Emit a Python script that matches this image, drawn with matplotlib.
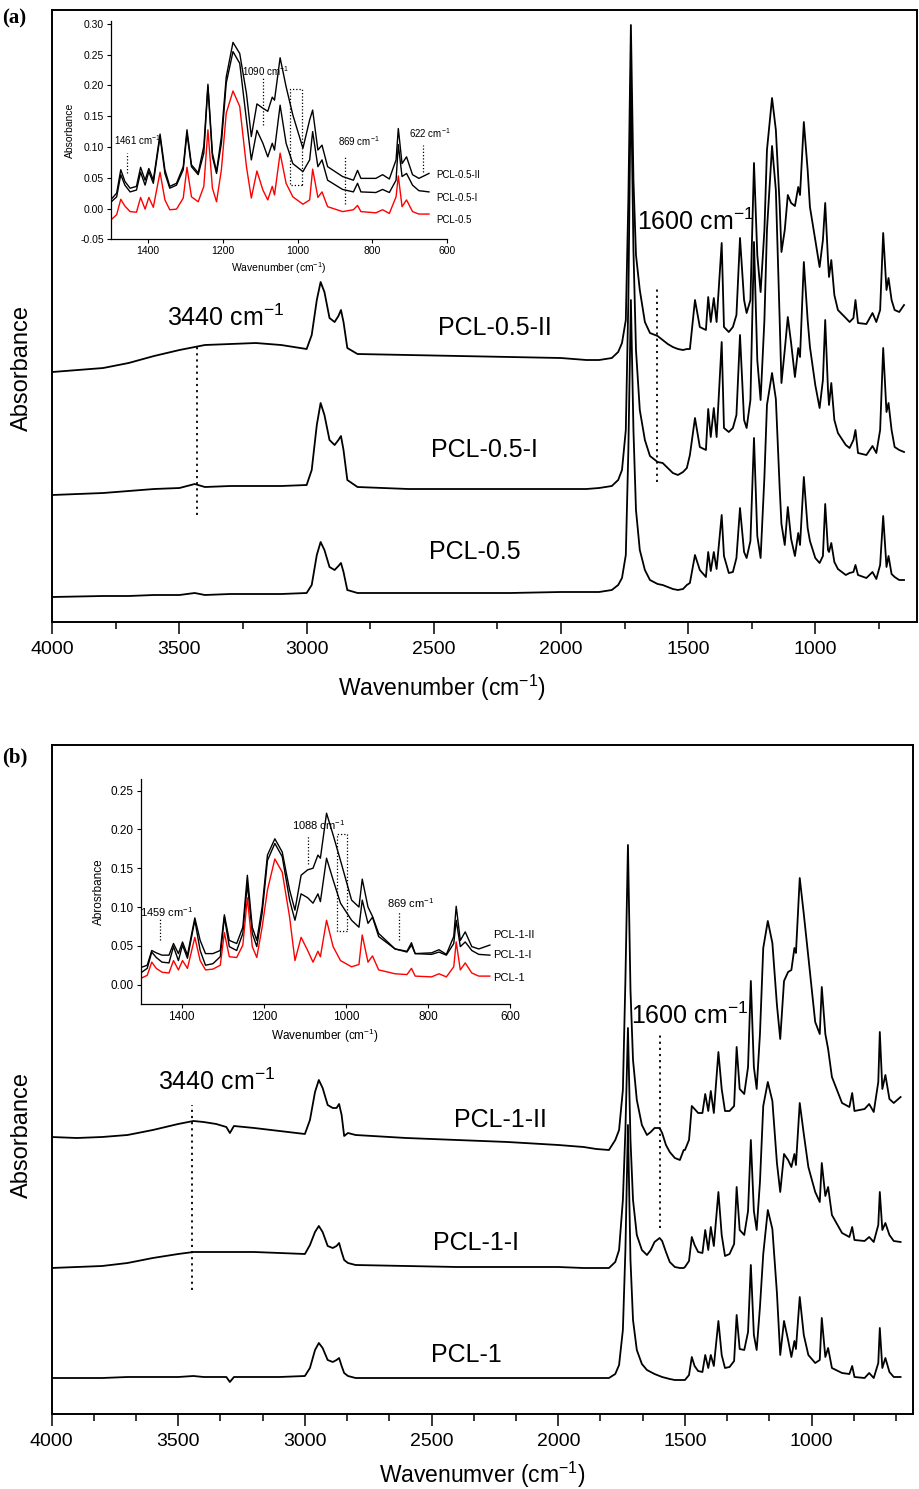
import matplotlib
matplotlib.use("Agg")
import matplotlib.pyplot as plt
from matplotlib.ticker import MultipleLocator, FixedLocator, FormatStrFormatter, NullLocator
from matplotlib.patches import Rectangle

plt.rcParams['font.family'] = ['Liberation Sans', 'DejaVu Sans']
plt.rcParams['mathtext.fontset'] = 'custom'
plt.rcParams['mathtext.rm'] = 'Liberation Sans'
plt.rcParams['mathtext.it'] = 'Liberation Sans:italic'
plt.rcParams['mathtext.bf'] = 'Liberation Sans:bold'
NARROW = ['Liberation Sans Narrow', 'Liberation Sans', 'DejaVu Sans']

# ---------------- Panel (a) main spectra (offset absorbance, a.u.) ----------------
a_low_wn = [4000, 3800, 3700, 3600, 3500, 3440, 3400, 3300, 3200, 3100, 3000, 2980, 2960, 2945,
            2930, 2910, 2890, 2875, 2865, 2855, 2840, 2800, 2600, 2400, 2200, 2000, 1900, 1850,
            1800, 1775, 1760, 1745, 1735, 1725, 1715, 1705, 1690, 1670, 1650, 1620, 1600, 1580,
            1560, 1540, 1520, 1505]
a_fp_wn = [1493, 1473, 1454, 1430, 1421, 1411, 1399, 1388, 1368, 1359, 1340, 1324, 1310, 1296,
           1280, 1270, 1255, 1241, 1228, 1215, 1200, 1190, 1170, 1155, 1140, 1133, 1120, 1108,
           1095, 1080, 1067, 1060, 1045, 1030, 1021, 1000, 983, 970, 961, 950, 946, 937, 925,
           911, 880, 865, 850, 842, 832, 799, 775, 760, 745, 733, 720, 712, 700, 688, 670, 651]

a_II_low = [250, 254, 259, 266, 272, 275, 277, 278, 279, 277, 273, 287, 322, 340, 330, 304, 300,
            306, 312, 300, 274, 268, 267, 266, 265, 264, 262, 262, 264, 270, 279, 302, 422, 597,
            442, 367, 332, 300, 289, 286, 282, 278, 275, 273, 272, 273]
a_II_fp = [273, 322, 295, 292, 325, 300, 324, 300, 379, 295, 290, 295, 307, 384, 322, 309, 322,
           459, 367, 330, 392, 472, 524, 492, 417, 370, 392, 427, 419, 416, 435, 427, 500, 452,
           415, 382, 355, 382, 419, 362, 345, 362, 327, 312, 304, 300, 304, 322, 299, 298, 309,
           300, 312, 389, 332, 344, 322, 312, 310, 317]
a_I_low = [127, 129, 131, 133, 134, 138, 135, 136, 136, 136, 137, 152, 197, 219, 207, 182, 177,
           182, 186, 172, 142, 135, 133, 133, 133, 133, 133, 134, 136, 142, 152, 192, 322, 550,
           372, 272, 212, 182, 166, 160, 159, 154, 149, 147, 150, 154]
a_I_fp = [167, 204, 175, 172, 213, 185, 214, 185, 280, 194, 190, 194, 207, 287, 202, 194, 222,
          380, 262, 222, 302, 392, 476, 432, 302, 239, 272, 305, 279, 245, 274, 265, 360, 302,
          275, 237, 214, 242, 302, 232, 217, 239, 202, 189, 177, 174, 182, 192, 169, 167, 176,
          169, 192, 274, 210, 219, 192, 175, 172, 170]
a_0_low = [25, 26, 26, 27, 27, 29, 27, 28, 28, 28, 29, 37, 67, 80, 72, 55, 52, 56, 59, 50, 32,
           29, 29, 29, 29, 30, 30, 30, 32, 37, 44, 67, 172, 322, 192, 112, 72, 52, 42, 38, 37,
           35, 33, 32, 33, 37]
a_0_fp = [39, 67, 52, 45, 70, 51, 70, 53, 107, 66, 49, 50, 64, 114, 70, 64, 81, 184, 86, 64,
          145, 217, 249, 223, 134, 98, 77, 115, 83, 66, 89, 77, 145, 94, 81, 64, 59, 66, 118,
          72, 70, 79, 60, 53, 47, 49, 50, 57, 47, 44, 50, 43, 57, 106, 55, 66, 48, 45, 42, 42]
a_names = ['PCL-0.5-II', 'PCL-0.5-I', 'PCL-0.5']

# ---------------- Panel (b) main spectra ----------------
b_low_wn = [4000, 3900, 3800, 3700, 3600, 3500, 3440, 3400, 3350, 3310, 3296, 3280, 3200, 3100,
            3000, 2980, 2960, 2945, 2930, 2910, 2890, 2875, 2865, 2855, 2845, 2830, 2800, 2600,
            2400, 2200, 2000, 1900, 1850, 1800, 1775, 1760, 1745, 1735, 1725, 1715, 1705, 1690,
            1670, 1650, 1635, 1620, 1600, 1590, 1575, 1560, 1540, 1520, 1505]
fp_wn = [1500, 1484, 1473, 1462, 1448, 1431, 1420, 1408, 1398, 1386, 1368, 1355, 1342, 1324,
         1306, 1296, 1284, 1266, 1251, 1240, 1228, 1217, 1204, 1191, 1173, 1155, 1137, 1124,
         1109, 1093, 1080, 1068, 1062, 1047, 1031, 1013, 986, 968, 960, 946, 935, 920, 880,
         851, 840, 831, 791, 773, 755, 737, 731, 721, 709, 693, 676, 649]

b_II_low = [277, 276, 277, 279, 284, 290, 293, 292, 290, 287, 281, 288, 286, 283, 280, 294, 322,
            334, 326, 309, 306, 306, 310, 299, 278, 281, 279, 276, 274, 272, 269, 267, 265, 264,
            274, 284, 324, 434, 569, 424, 354, 314, 289, 279, 282, 286, 286, 281, 269, 262, 256,
            254, 264]
b_II_fp = [264, 274, 308, 305, 301, 301, 320, 303, 323, 301, 362, 325, 303, 303, 308, 367, 325,
           320, 347, 433, 347, 325, 380, 466, 493, 471, 409, 375, 433, 442, 444, 466, 461, 536,
           500, 457, 392, 380, 427, 380, 365, 337, 311, 307, 321, 303, 305, 310, 302, 332, 382,
           325, 339, 315, 311, 317]
b_I_low = [146, 147, 148, 151, 156, 160, 162, 162, 162, 162, 162, 162, 162, 161, 160, 169, 182,
           188, 182, 168, 166, 168, 171, 162, 154, 151, 149, 148, 147, 147, 147, 146, 146, 146,
           152, 164, 214, 284, 386, 274, 214, 179, 164, 159, 164, 172, 176, 173, 162, 152, 147,
           146, 146]
b_I_fp = [147, 153, 177, 169, 162, 161, 184, 164, 187, 168, 222, 179, 158, 160, 170, 227, 184,
          179, 203, 274, 203, 184, 232, 308, 332, 313, 251, 222, 260, 254, 247, 260, 249, 311,
          280, 247, 222, 212, 251, 218, 227, 199, 181, 177, 187, 174, 173, 177, 172, 189, 222,
          184, 191, 179, 173, 172]
b_0_low = [36, 36, 36, 37, 37, 37, 38, 37, 37, 37, 32, 37, 37, 37, 38, 46, 64, 71, 66, 54, 52,
           54, 56, 48, 41, 38, 36, 36, 36, 36, 36, 36, 36, 36, 40, 49, 84, 164, 289, 154, 94,
           64, 50, 44, 42, 40, 38, 37, 36, 35, 34, 34, 34]
b_0_fp = [34, 39, 57, 48, 43, 42, 59, 46, 59, 48, 93, 59, 46, 47, 53, 99, 65, 64, 82, 149, 79,
          64, 107, 160, 204, 185, 121, 59, 93, 74, 57, 73, 65, 117, 79, 59, 51, 54, 96, 57, 66,
          46, 41, 40, 48, 37, 36, 41, 36, 51, 86, 46, 56, 42, 37, 37]
b_names = ['PCL-1-II', 'PCL-1-I', 'PCL-1']

# ---------------- Insets (absorbance) ----------------
ins_a_red = [-0.019, -0.010, 0.015, 0.004, -0.005, -0.006, 0.018, -0.001, 0.018, 0.002, 0.059,
             0.014, -0.002, -0.001, 0.017, 0.067, 0.019, 0.011, 0.036, 0.128, 0.033, 0.011,
             0.063, 0.155, 0.191, 0.166, 0.068, 0.017, 0.061, 0.030, 0.014, 0.036, 0.022,
             0.090, 0.041, 0.019, 0.007, 0.014, 0.064, 0.018, 0.027, 0.003, -0.005, -0.002,
             0.005, -0.005, -0.007, -0.002, -0.008, 0.019, 0.053, 0.003, 0.014, -0.005,
             -0.009, -0.009]
ins_a_I = [0.010, 0.019, 0.055, 0.038, 0.027, 0.030, 0.059, 0.038, 0.060, 0.041, 0.117, 0.057,
           0.033, 0.038, 0.063, 0.122, 0.068, 0.055, 0.090, 0.198, 0.084, 0.057, 0.106, 0.204,
           0.255, 0.236, 0.144, 0.079, 0.127, 0.106, 0.084, 0.106, 0.095, 0.168, 0.106, 0.073,
           0.060, 0.079, 0.125, 0.068, 0.079, 0.046, 0.031, 0.027, 0.041, 0.027, 0.026, 0.031,
           0.026, 0.046, 0.104, 0.052, 0.057, 0.038, 0.029, 0.027]
ins_a_II = [0.014, 0.025, 0.063, 0.044, 0.033, 0.036, 0.067, 0.046, 0.065, 0.046, 0.121, 0.063,
            0.036, 0.041, 0.068, 0.128, 0.071, 0.058, 0.101, 0.202, 0.090, 0.060, 0.117, 0.214,
            0.270, 0.252, 0.187, 0.117, 0.170, 0.163, 0.158, 0.181, 0.176, 0.245, 0.198, 0.152,
            0.098, 0.144, 0.160, 0.095, 0.103, 0.068, 0.052, 0.046, 0.062, 0.049, 0.049, 0.055,
            0.048, 0.079, 0.130, 0.073, 0.084, 0.055, 0.049, 0.057]
ins_b_red = [0.008, 0.012, 0.029, 0.021, 0.016, 0.015, 0.031, 0.019, 0.031, 0.021, 0.061, 0.031,
             0.019, 0.020, 0.025, 0.067, 0.036, 0.035, 0.051, 0.112, 0.049, 0.035, 0.074, 0.122,
             0.162, 0.145, 0.087, 0.031, 0.061, 0.044, 0.029, 0.043, 0.036, 0.083, 0.049, 0.031,
             0.023, 0.026, 0.064, 0.029, 0.037, 0.019, 0.014, 0.013, 0.021, 0.011, 0.010, 0.014,
             0.010, 0.023, 0.055, 0.019, 0.028, 0.015, 0.011, 0.011]
ins_b_I = [0.015, 0.021, 0.042, 0.035, 0.029, 0.028, 0.049, 0.031, 0.051, 0.034, 0.083, 0.044,
           0.025, 0.027, 0.036, 0.087, 0.049, 0.044, 0.066, 0.130, 0.066, 0.049, 0.092, 0.160,
           0.182, 0.165, 0.109, 0.083, 0.117, 0.112, 0.105, 0.117, 0.107, 0.163, 0.135, 0.105,
           0.083, 0.074, 0.109, 0.079, 0.087, 0.062, 0.046, 0.042, 0.051, 0.040, 0.039, 0.042,
           0.038, 0.053, 0.083, 0.049, 0.055, 0.044, 0.039, 0.038]
ins_b_II = [0.022, 0.025, 0.044, 0.041, 0.038, 0.038, 0.053, 0.040, 0.055, 0.038, 0.086, 0.057,
            0.040, 0.040, 0.044, 0.090, 0.057, 0.053, 0.074, 0.141, 0.074, 0.057, 0.100, 0.167,
            0.188, 0.171, 0.122, 0.096, 0.141, 0.148, 0.150, 0.167, 0.163, 0.221, 0.193, 0.160,
            0.109, 0.100, 0.136, 0.100, 0.088, 0.066, 0.046, 0.043, 0.054, 0.040, 0.041, 0.045,
            0.039, 0.062, 0.101, 0.057, 0.068, 0.049, 0.046, 0.051]

DOT = (0, (1.2, 2.2))

fig = plt.figure(figsize=(9.2, 14.89), dpi=100)


def main_panel(rect, low_wn, fp, series, names, name_pos, ylim, minor_step,
               ann3440, ann1600, xlabel, xlabel_xy, ylabel_xy, tag, tag_xy):
    ax = fig.add_axes(rect)
    for low, f in series:
        ax.plot(list(low_wn) + list(fp[0]), list(low) + list(f), color='black', lw=1.3,
                solid_joinstyle='round')
    ax.set_xlim(4000, 600)
    ax.set_ylim(*ylim)
    ax.xaxis.set_major_locator(FixedLocator([4000, 3500, 3000, 2500, 2000, 1500, 1000]))
    ax.xaxis.set_minor_locator(MultipleLocator(minor_step))
    ax.yaxis.set_major_locator(NullLocator())
    ax.tick_params(axis='x', which='major', direction='out', length=8.5, width=1.1,
                   labelsize=14, pad=5)
    ax.tick_params(axis='x', which='minor', direction='out', length=5, width=1.1)
    for lab in ax.get_xticklabels():
        lab.set_family(NARROW)
    for s in ax.spines.values():
        s.set_linewidth(1.4)
    for (nm, (x, y)) in zip(names, name_pos):
        ax.text(x, y, nm, fontsize=18, ha='center', va='center')
    (lx, ly0, ly1, tx, ty) = ann3440
    ax.plot([lx, lx], [ly0, ly1], color='black', lw=1.3, ls=DOT)
    ax.text(tx, ty, '3440 cm$^{-1}$', fontsize=18, ha='center', va='center')
    (lx, ly0, ly1, tx, ty) = ann1600
    ax.plot([lx, lx], [ly0, ly1], color='black', lw=1.3, ls=DOT)
    ax.text(tx, ty, '1600 cm$^{-1}$', fontsize=18, ha='center', va='center')
    fig.text(xlabel_xy[0], xlabel_xy[1], xlabel, fontsize=16.5, ha='center', va='center',
             family=NARROW)
    fig.text(ylabel_xy[0], ylabel_xy[1], 'Absorbance', fontsize=17, ha='center',
             va='center', rotation=90, family=NARROW)
    fig.text(tag_xy[0], tag_xy[1], tag, fontsize=15, fontweight='bold',
             family=['Liberation Serif', 'DejaVu Serif'], ha='left', va='center')
    return ax


def inset(rect, series, ylim, yticks, ylabel, labels, label_x, label_ys, anns, rect_box, fs):
    ax = fig.add_axes(rect)
    ax.patch.set_alpha(0)
    colors = ['black', 'black', 'red']
    for s, c in zip(series, colors):
        ax.plot(fp_wn, s, color=c, lw=1.0)
    ax.set_xlim(1500, 600)
    ax.set_ylim(*ylim)
    ax.set_xticks([1400, 1200, 1000, 800, 600])
    ax.set_yticks(yticks)
    ax.yaxis.set_major_formatter(FormatStrFormatter('%.2f'))
    ax.spines['top'].set_visible(False)
    ax.spines['right'].set_visible(False)
    for s in ('left', 'bottom'):
        ax.spines[s].set_linewidth(0.9)
    ax.tick_params(direction='out', length=3, width=0.8, labelsize=fs, pad=2)
    ax.set_xlabel('Wavenumber (cm$^{-1}$)', fontsize=fs, labelpad=3)
    ax.set_ylabel(ylabel, fontsize=fs, labelpad=4)
    for lab, y in zip(labels, label_ys):
        ax.text(label_x, y, lab, fontsize=fs - 0.5, ha='left', va='center', clip_on=False)
    for (txt, tx, ty, lx, ly0, ly1) in anns:
        ax.plot([lx, lx], [ly0, ly1], color='black', lw=0.9, ls=(0, (1, 1.6)))
        ax.text(tx, ty, txt, fontsize=fs - 0.5, ha='center', va='center')
    (x0, x1, y0, y1) = rect_box
    ax.add_patch(Rectangle((x1, y0), x0 - x1, y1 - y0, fill=False, lw=0.9,
                           ls=(0, (1, 1.6)), ec='black'))
    return ax


# Panel (a)
main_panel([0.05685, 0.58227, 0.9399, 0.4110], a_low_wn, (a_fp_wn,),
           [(a_II_low, a_II_fp), (a_I_low, a_I_fp), (a_0_low, a_0_fp)],
           a_names, [(2259, 294), (2299, 172), (2338, 70)], (0, 612), 250,
           (3432, 107, 277, 3317, 304), (1622, 140, 334, 1470, 400),
           'Wavenumber (cm$^{-1}$)', (442 / 920, 1 - 688 / 1489),
           (22 / 920, 1 - 368 / 1489), '(a)', (2 / 920, 1 - 18 / 1489))

# Panel (b)
main_panel([0.05598, 0.05037, 0.93641, 0.44930], b_low_wn, (fp_wn,),
           [(b_II_low, b_II_fp), (b_I_low, b_I_fp), (b_0_low, b_0_fp)],
           b_names, [(2230, 294), (2325, 171), (2361, 59)], (0, 669), 500 / 3,
           (3446, 124, 309, 3347, 332), (1599, 186, 379, 1480, 398),
           'Wavenumver (cm$^{-1}$)', (482 / 920, 1 - 1475 / 1489),
           (22 / 920, 1 - 1135 / 1489), '(b)', (2 / 920, 1 - 757 / 1489))

# Inset (a)
inset([0.1203, 0.8393, 0.3659, 0.1467], [ins_a_II, ins_a_I, ins_a_red], (-0.05, 0.305),
      [-0.05, 0.00, 0.05, 0.10, 0.15, 0.20, 0.25, 0.30], 'Absorbance',
      ['PCL-0.5-II', 'PCL-0.5-I', 'PCL-0.5'], 630, [0.054, 0.017, -0.019],
      [('1461 cm$^{-1}$', 1427, 0.111, 1457, 0.058, 0.090),
       ('1090 cm$^{-1}$', 1086, 0.224, 1093, 0.136, 0.214),
       ('869 cm$^{-1}$', 838, 0.110, 873, 0.008, 0.084),
       ('622 cm$^{-1}$', 646, 0.123, 666, 0.060, 0.103)],
      (1020, 988, 0.038, 0.194), 7.5)

# Inset (b)
inset([0.1529, 0.3257, 0.4014, 0.1511], [ins_b_II, ins_b_I, ins_b_red], (-0.025, 0.265),
      [0.00, 0.05, 0.10, 0.15, 0.20, 0.25], 'Abrosrbance',
      ['PCL-1-II', 'PCL-1-I', 'PCL-1'], 640, [0.064, 0.038, 0.008],
      [('1459 cm$^{-1}$', 1438, 0.094, 1452, 0.057, 0.084),
       ('1088 cm$^{-1}$', 1067, 0.206, 1091, 0.156, 0.193),
       ('869 cm$^{-1}$', 842, 0.105, 870, 0.057, 0.093)],
      (1022, 996, 0.069, 0.194), 8.5)

fig.savefig('out.png', dpi=100)
